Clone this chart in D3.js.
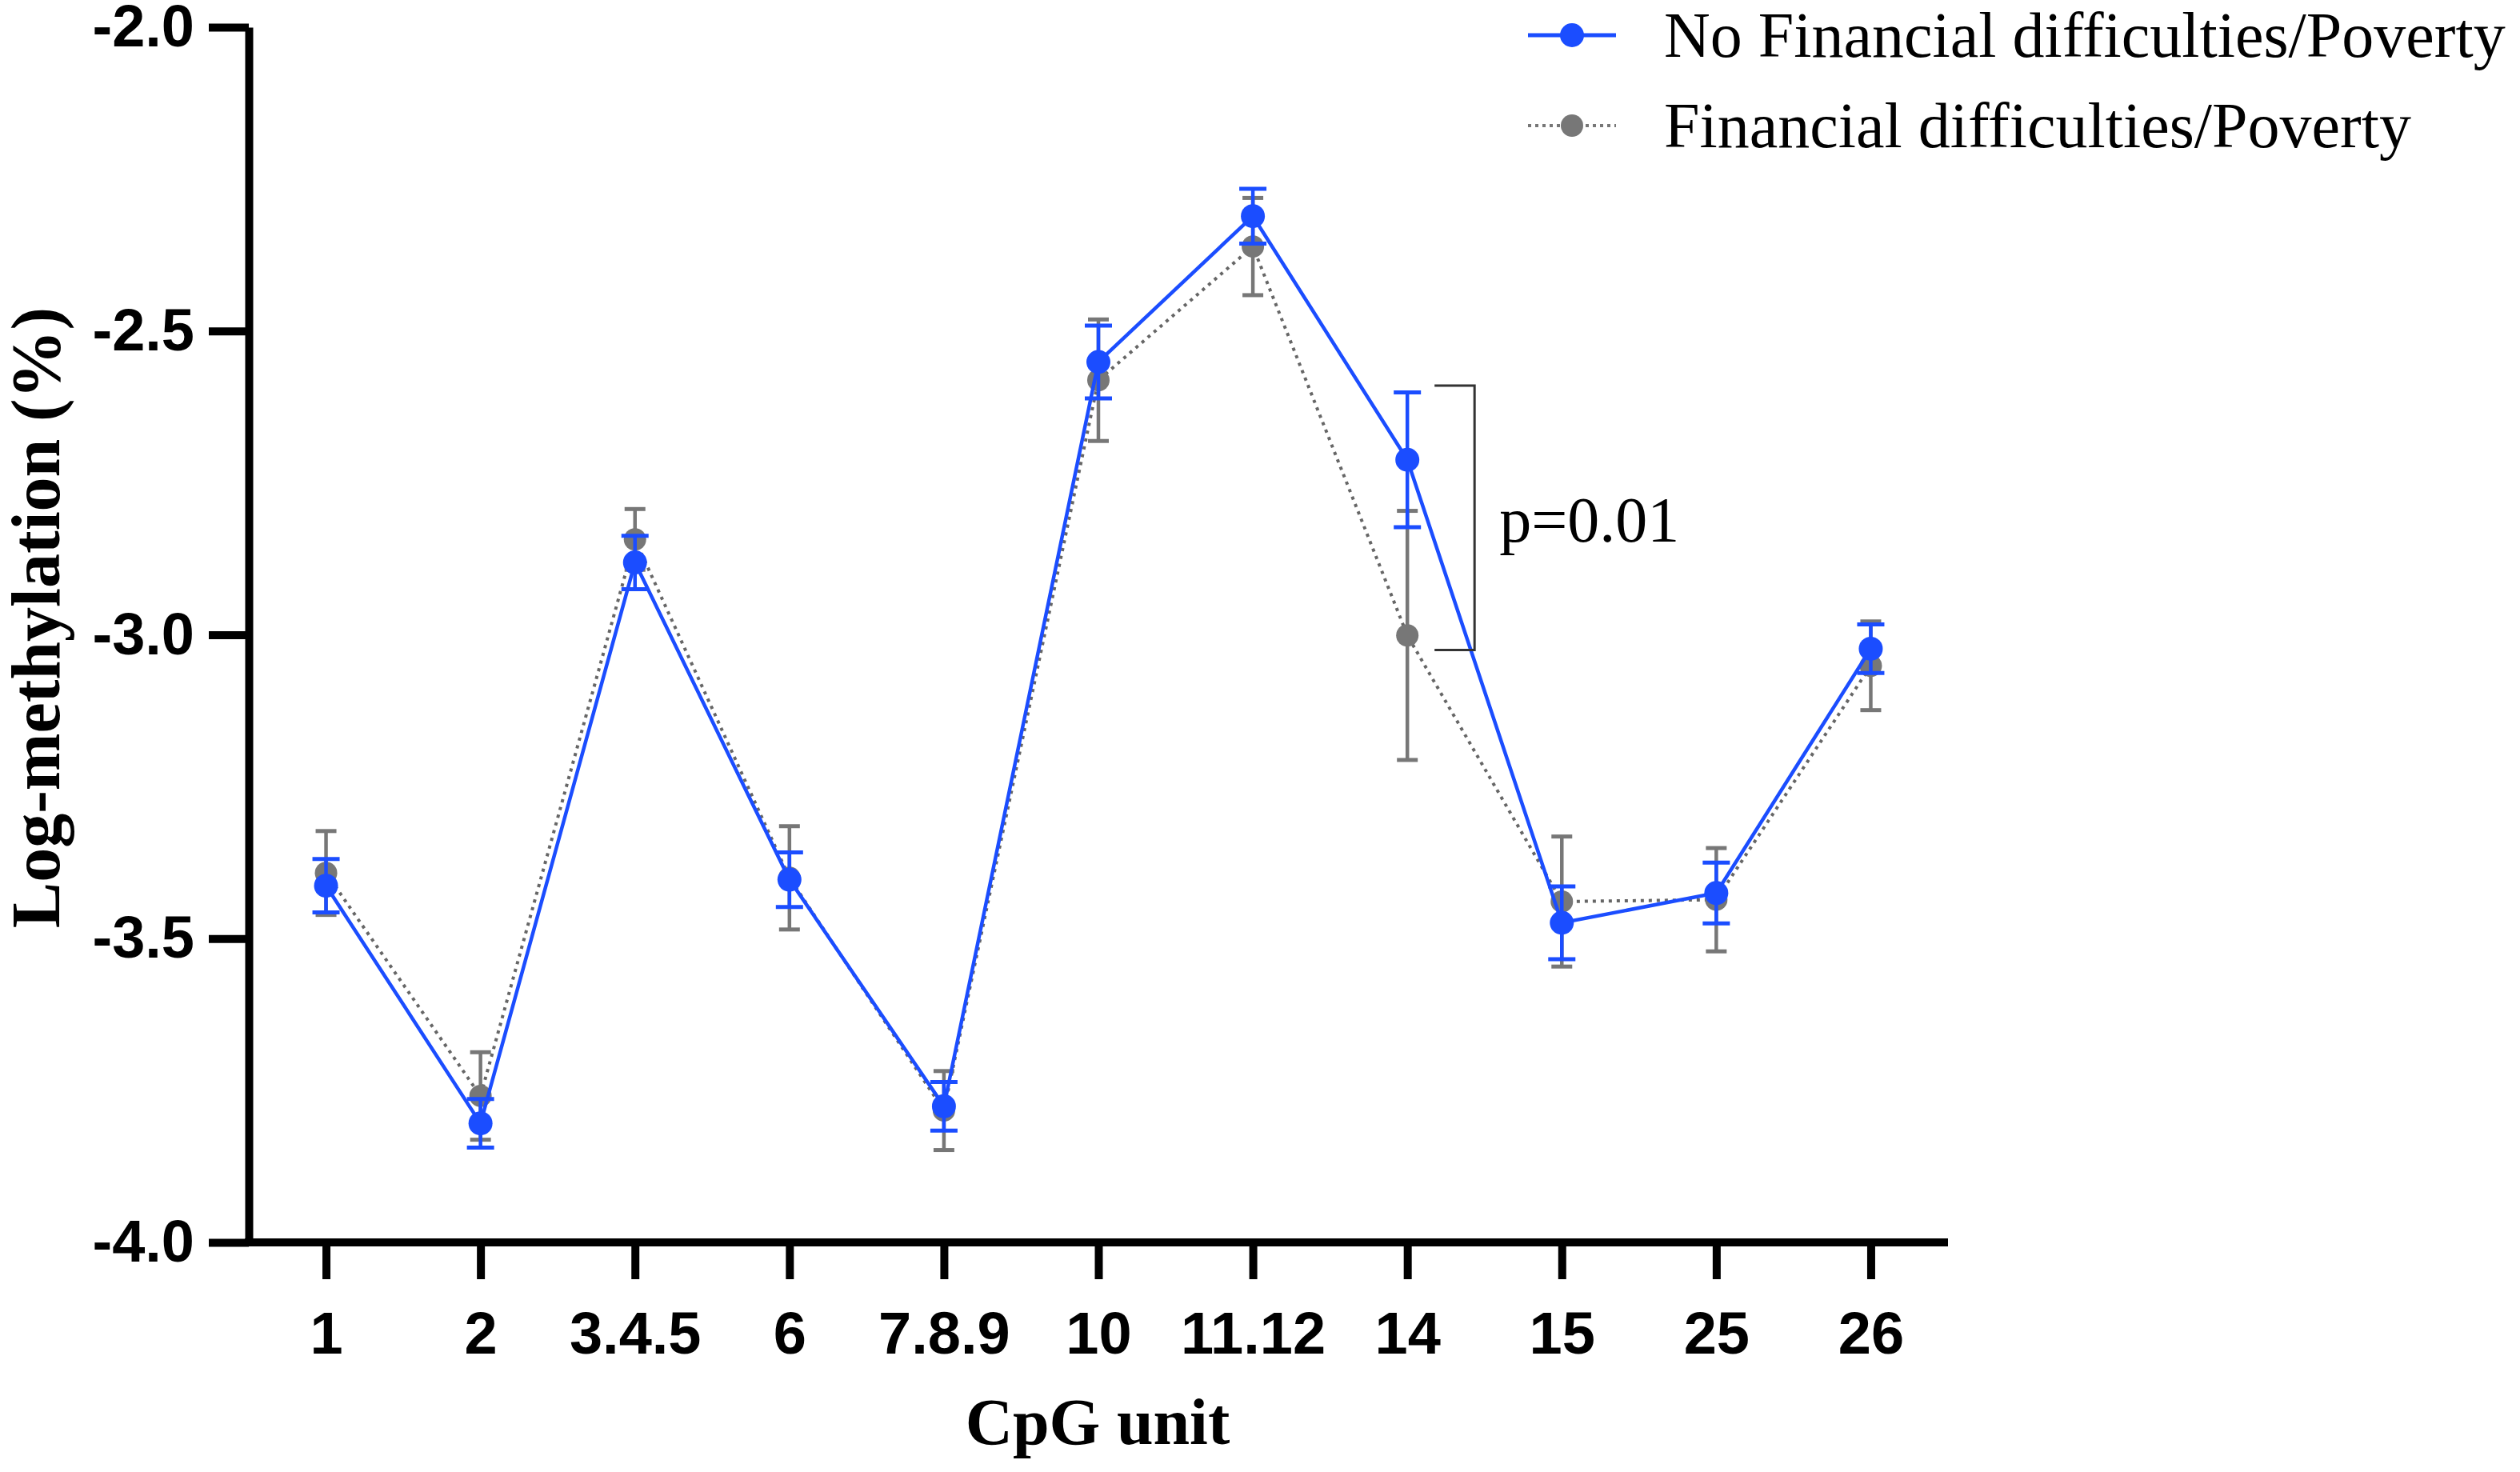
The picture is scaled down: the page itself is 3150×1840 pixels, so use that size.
<!DOCTYPE html>
<html>
<head>
<meta charset="utf-8">
<script src="https://cdn.jsdelivr.net/npm/d3@7"></script>
<style>
  html, body { margin: 0; padding: 0; background: #ffffff; }
  svg { display: block; }
</style>
</head>
<body>
<div id="chart"></div>
<script>
// ---------- data ----------
const categories = ["1", "2", "3.4.5", "6", "7.8.9", "10", "11.12", "14", "15", "25", "26"];
const noFinMean = [-3.413, -3.804, -2.881, -3.403, -3.776, -2.551, -2.311, -2.712, -3.474, -3.425, -3.023];
const noFinErr  = [0.044, 0.040, 0.044, 0.045, 0.040, 0.060, 0.045, 0.111, 0.060, 0.050, 0.040];
const finMean   = [-3.392, -3.759, -2.843, -3.400, -3.783, -2.581, -2.361, -3.001, -3.439, -3.436, -3.051];
const finErr    = [0.069, 0.072, 0.050, 0.085, 0.065, 0.100, 0.080, 0.205, 0.107, 0.085, 0.073];
const yTicks = [-2.0, -2.5, -3.0, -3.5, -4.0];
const seriesNames = ["No Financial difficulties/Poverty", "Financial difficulties/Poverty"];
const annotCategory = "14";
const annotRange = [-2.59, -3.025];
const annotLabel = "p=0.01";

(function () {
// ---------- layout ----------
const W = 3150, H = 1840;
const pLeft = 311, pRight = 2435, pTop = 34, pBottom = 1553;
const blue = "#1b4dff", gray = "#777777";

const svg = d3.select("#chart").append("svg").attr("width", W).attr("height", H);

const x = d3.scalePoint().domain(categories).range([pLeft, pRight]).padding(0.5);
const y = d3.scaleLinear().domain([-4.0, -2.0]).range([pBottom, pTop]);

// axes
const yAxis = d3.axisLeft(y).tickValues(yTicks).tickFormat(d => d3.format(".1f")(d).replace("−", "-"))
  .tickSize(50).tickSizeOuter(0).tickPadding(18);
const gy = svg.append("g").attr("transform", `translate(${pLeft},0)`).call(yAxis);
gy.select(".domain").attr("stroke", "#000").attr("stroke-width", 10);
gy.selectAll(".tick line").attr("stroke", "#000").attr("stroke-width", 10);
gy.selectAll(".tick text")
  .attr("font-family", "'Liberation Sans', Arial, sans-serif")
  .attr("font-weight", "bold").attr("font-size", 74).attr("fill", "#000");

const xAxis = d3.axisBottom(x).tickSize(46).tickSizeOuter(0).tickPadding(40);
const gx = svg.append("g").attr("transform", `translate(0,${pBottom})`).call(xAxis);
gx.select(".domain").attr("stroke", "#000").attr("stroke-width", 10).attr("d", `M${pLeft - 5},0H${pRight}`);
gx.selectAll(".tick line").attr("stroke", "#000").attr("stroke-width", 10);
gx.selectAll(".tick text")
  .attr("font-family", "'Liberation Sans', Arial, sans-serif")
  .attr("font-weight", "bold").attr("font-size", 74).attr("fill", "#000")
  .attr("dy", null).attr("y", 139);

// axis titles
svg.append("text")
  .attr("transform", `translate(74,772) rotate(-90)`)
  .attr("text-anchor", "middle")
  .attr("font-family", "'Liberation Serif', 'Times New Roman', serif")
  .attr("font-weight", "bold").attr("font-size", 86).attr("fill", "#000")
  .text("Log-methylation (%)");

svg.append("text")
  .attr("x", 1372).attr("y", 1805)
  .attr("text-anchor", "middle")
  .attr("font-family", "'Liberation Serif', 'Times New Roman', serif")
  .attr("font-weight", "bold").attr("font-size", 82).attr("fill", "#000")
  .text("CpG unit");

// series drawing
function drawSeries(means, errs, color, opts) {
  const pts = categories.map((c, i) => ({ c, m: means[i], e: errs[i] }));
  const line = d3.line().x(d => x(d.c)).y(d => y(d.m));
  const g = svg.append("g");
  g.append("path").datum(pts)
    .attr("fill", "none").attr("stroke", opts.lineColor)
    .attr("stroke-width", opts.lineWidth)
    .attr("stroke-dasharray", opts.dash || null)
    .attr("d", line);
  const eb = g.selectAll(".eb").data(pts).enter().append("g");
  eb.append("line")
    .attr("x1", d => x(d.c)).attr("x2", d => x(d.c))
    .attr("y1", d => y(d.m + d.e)).attr("y2", d => y(d.m - d.e))
    .attr("stroke", color).attr("stroke-width", 4.5);
  [1, -1].forEach(s => {
    eb.append("line")
      .attr("x1", d => x(d.c) - opts.cap / 2).attr("x2", d => x(d.c) + opts.cap / 2)
      .attr("y1", d => y(d.m + s * d.e)).attr("y2", d => y(d.m + s * d.e))
      .attr("stroke", color).attr("stroke-width", 5);
  });
  g.selectAll(".dot").data(pts).enter().append("circle")
    .attr("cx", d => x(d.c)).attr("cy", d => y(d.m))
    .attr("r", opts.r).attr("fill", color);
}

drawSeries(finMean, finErr, gray, { lineColor: "#666666", lineWidth: 4, dash: "4 6", cap: 26, r: 14 });
drawSeries(noFinMean, noFinErr, blue, { lineColor: blue, lineWidth: 4.5, cap: 34, r: 15 });

// significance bracket
const bx = x(annotCategory) + 84;
svg.append("path")
  .attr("d", `M${bx - 50},${y(annotRange[0])}H${bx}V${y(annotRange[1])}H${bx - 50}`)
  .attr("fill", "none").attr("stroke", "#333").attr("stroke-width", 3);
svg.append("text")
  .attr("x", bx + 31).attr("y", 677)
  .attr("font-family", "'Liberation Serif', 'Times New Roman', serif")
  .attr("font-size", 80).attr("fill", "#000")
  .text(annotLabel);

// legend
const legend = svg.append("g");
const legRows = [
  { name: seriesNames[0], color: blue, lineColor: blue, dash: null, w: 5, y: 44, r: 15 },
  { name: seriesNames[1], color: gray, lineColor: "#777", dash: "4 5", w: 4, y: 157, r: 14 }
];
legRows.forEach(r => {
  legend.append("line").attr("x1", 1910).attr("x2", 2020).attr("y1", r.y).attr("y2", r.y)
    .attr("stroke", r.lineColor).attr("stroke-width", r.w).attr("stroke-dasharray", r.dash);
  legend.append("circle").attr("cx", 1965).attr("cy", r.y).attr("r", r.r).attr("fill", r.color);
  legend.append("text").attr("x", 2080).attr("y", r.y + 27)
    .attr("font-family", "'Liberation Serif', 'Times New Roman', serif")
    .attr("font-size", 80).attr("fill", "#000").text(r.name);
});
})();
</script>
</body>
</html>
